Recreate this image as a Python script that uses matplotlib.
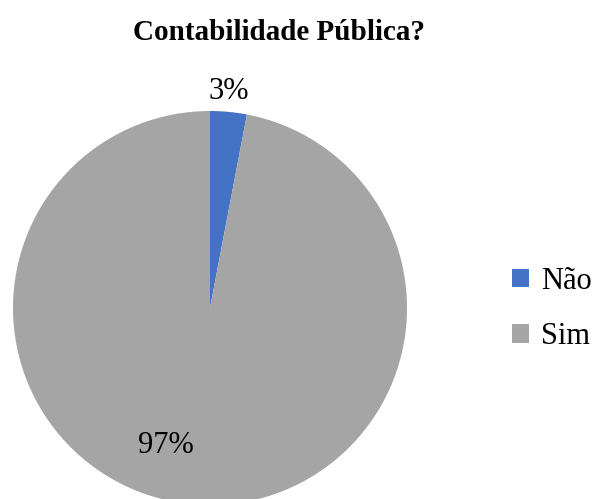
import matplotlib
matplotlib.use("Agg")
import matplotlib.pyplot as plt
from matplotlib.patches import Patch

categories = ["Não", "Sim"]
values = [3, 97]
pct_labels = ["3%", "97%"]
colors = ["#4472C4", "#A5A5A5"]
title = "Contabilidade Pública?"

plt.rcParams["font.family"] = ["Liberation Serif", "DejaVu Serif"]

W, H = 593, 499
fig = plt.figure(figsize=(W / 100, H / 100), dpi=100)
cx, cy, r = 210, 308, 197
ax = fig.add_axes([(cx - r) / W, (H - cy - r) / H, 2 * r / W, 2 * r / H])
wedges, _ = ax.pie(values, colors=colors, startangle=90, counterclock=False,
                   radius=1, wedgeprops=dict(linewidth=0))
ax.set_xlim(-1, 1)
ax.set_ylim(-1, 1)
ax.set_aspect("equal")
ax.axis("off")

# label positions (axes data units)
label_pos = [(0.094, 1.10), (-0.226, -0.70)]
for txt, (x, y) in zip(pct_labels, label_pos):
    ax.text(x, y, txt, ha="center", va="center", fontsize=22, color="#000000")

fig.text(279 / W, 1 - 33 / H, title, ha="center", va="center",
         fontsize=21, fontweight="bold")

handles = [Patch(facecolor=c, edgecolor="none") for c in colors]
fig.legend(handles, categories, loc="center left",
           bbox_to_anchor=(512 / W, 1 - 309 / H), frameon=False,
           fontsize=22, handlelength=0.55, handleheight=0.55,
           handletextpad=0.4, labelspacing=0.88, borderpad=0,
           borderaxespad=0)

fig.savefig("out.png", dpi=100)
